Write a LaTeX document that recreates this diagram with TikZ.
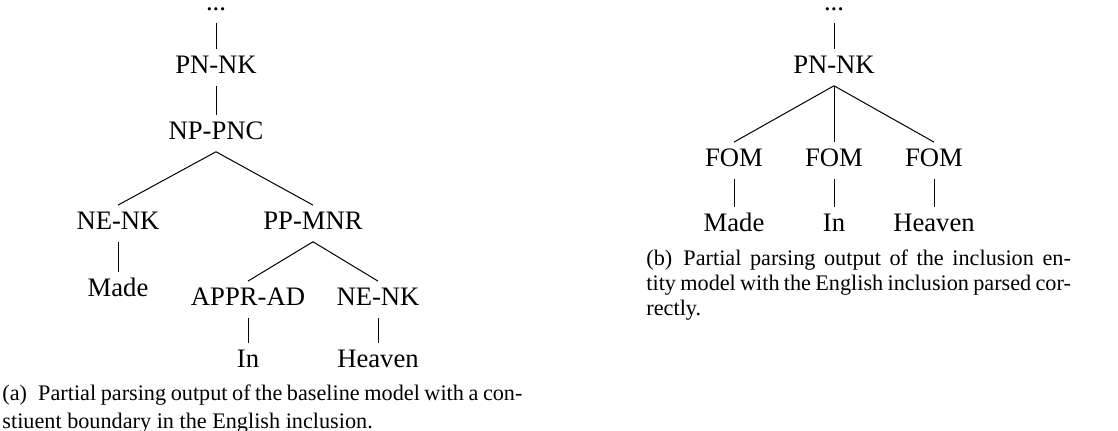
\documentclass[tikz,border=0pt]{standalone}
\usepackage{fontspec}
\setmainfont{Liberation Serif}
\tikzset{
    cat/.style={anchor=base, inner xsep=1pt, inner ysep=2.5pt,
                text height=8.5pt, text depth=2.6pt,
                font=\fontsize{12}{14}\selectfont},
    word/.style={cat},
    dots/.style={cat, text height=1.5pt},
    branch/.style={-, line width=0.45pt},
    capt/.style={anchor=north west, inner sep=0pt, align=justify},
}

\begin{document}
\begin{tikzpicture}[x=0.45pt, y=-0.45pt]
    \useasboundingbox (0,0) rectangle (1118,431);
    % (a) baseline model
    \node[dots] (dotsL) at (216,11) {...};
    \node[cat] (pnL) at (216,74) {PN-NK};
    \node[cat] (npL) at (216,140) {NP-PNC};
    \node[cat] (neL) at (118,230) {NE-NK};
    \node[cat] (ppL) at (313,230) {PP-MNR};
    \node[word] (madeL) at (118,297) {Made};
    \node[cat] (apprL) at (248,306) {APPR-AD};
    \node[cat] (ne2L) at (378,306) {NE-NK};
    \node[word] (inL) at (248,368) {In};
    \node[word] (heavenL) at (378,368) {Heaven};
    \draw[branch] (dotsL.south) -- (pnL.north);
    \draw[branch] (pnL.south) -- (npL.north);
    \draw[branch] (npL.south) -- (neL.north);
    \draw[branch] (npL.south) -- (ppL.north);
    \draw[branch] (neL.south) -- (madeL.north);
    \draw[branch] (ppL.south) -- (apprL.north);
    \draw[branch] (ppL.south) -- (ne2L.north);
    \draw[branch] (apprL.south) -- (inL.north);
    \draw[branch] (ne2L.south) -- (heavenL.north);
    \node[capt, text width=234pt, font=\fontsize{10}{12.6}\selectfont] (capA) at (2,384)
        {(a)\enskip Partial parsing output of the baseline model with a con-\linebreak
         stiuent boundary in the English inclusion.};

    % (b) inclusion entity model
    \node[dots] (dotsR) at (834,11) {...};
    \node[cat] (pnR) at (834,74) {PN-NK};
    \node[cat] (fomA) at (734,167) {FOM};
    \node[cat] (fomB) at (834,167) {FOM};
    \node[cat] (fomC) at (934,167) {FOM};
    \node[word] (madeR) at (734,232) {Made};
    \node[word] (inR) at (834,232) {In};
    \node[word] (heavenR) at (934,232) {Heaven};
    \draw[branch] (dotsR.south) -- (pnR.north);
    \draw[branch] (pnR.south) -- (fomA.north);
    \draw[branch] (pnR.south) -- (fomB.north);
    \draw[branch] (pnR.south) -- (fomC.north);
    \draw[branch] (fomA.south) -- (madeR.north);
    \draw[branch] (fomB.south) -- (inR.north);
    \draw[branch] (fomC.south) -- (heavenR.north);
    \node[capt, text width=191pt, font=\fontsize{10}{11.25}\selectfont] (capB) at (646,249)
        {(b)\enskip Partial parsing output of the inclusion en-\linebreak
         tity model with the English inclusion parsed cor-\linebreak
         rectly.};
\end{tikzpicture}
\end{document}
